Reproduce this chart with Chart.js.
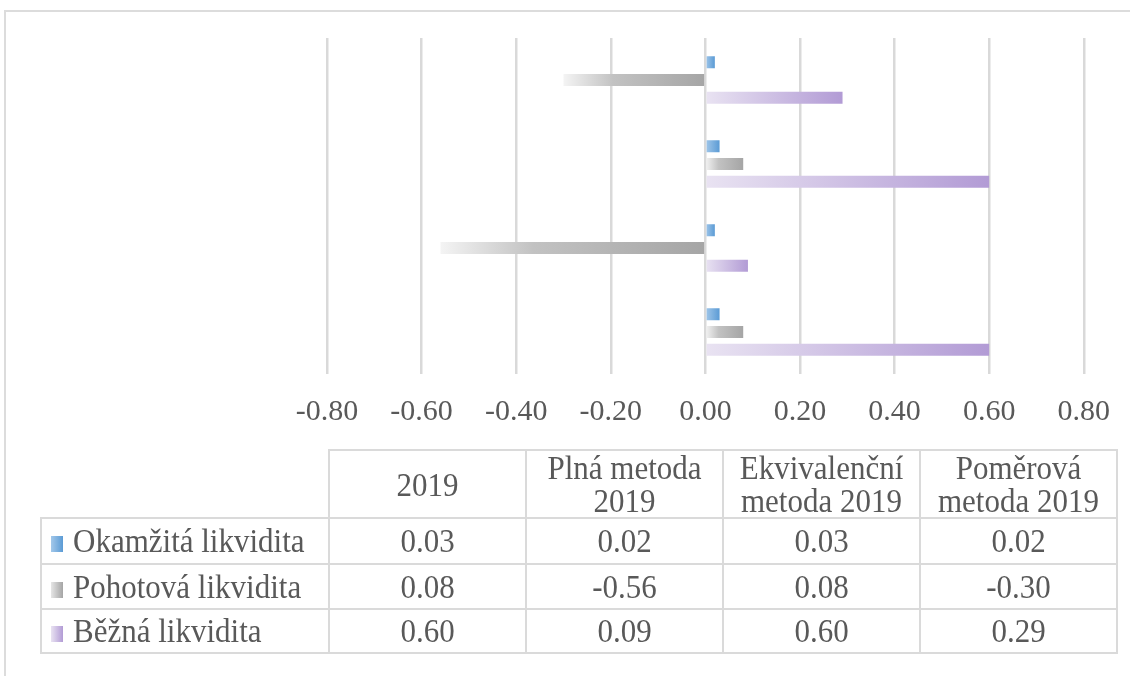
<!DOCTYPE html>
<html>
<head>
<meta charset="utf-8">
<script src="https://cdn.jsdelivr.net/npm/chart.js@4"></script>
<style>
    html, body { margin: 0; padding: 0; background: #fff; }
    body { width: 1130px; height: 676px; position: relative; overflow: hidden; font-family: 'Liberation Serif', 'Times New Roman', serif; }
    .frame { position: absolute; left: 4px; top: 10px; width: 1140px; height: 700px; border-top: 2px solid #dcdcdc; border-left: 2px solid #dcdcdc; }
    #chart { position: absolute; left: 0; top: 0; }
    table.data { position: absolute; left: 40px; top: 449px; border-collapse: collapse; table-layout: fixed; color: #595959; font-size: 31px; }
    table.data td { border: 2px solid #dadada; text-align: center; vertical-align: middle; padding: 0; white-space: nowrap; }
    table.data tr.head td { height: 66px; line-height: 33px; }
    table.data td.blank { border-top: none; border-left: none; }
    table.data td.name { text-align: left; padding-left: 9px; }
    .tall { display: inline-block; transform: scaleY(1.1); }
    .key { display: inline-block; width: 12px; height: 16px; margin-right: 10px; vertical-align: -1px; }
</style>
</head>
<body>
<div class="frame"></div>
<canvas id="chart" width="1130" height="450"></canvas>
<table class="data" id="dataTable"></table>
<script>
// Categories (table column order, 2019 is drawn at the bottom)
const categories = ['2019', 'Plná metoda 2019', 'Ekvivalenční metoda 2019', 'Poměrová metoda 2019'];
const headerLines = [['2019'], ['Plná metoda', '2019'], ['Ekvivalenční', 'metoda 2019'], ['Poměrová', 'metoda 2019']];

// Series values
const okamzita = [0.03, 0.02, 0.03, 0.02];
const pohotova = [0.08, -0.56, 0.08, -0.30];
const bezna = [0.60, 0.09, 0.60, 0.29];

// Axis ticks
const tickMin = -0.8;
const tickMax = 0.8;
const tickStep = 0.2;

const seriesNames = ['Okamžitá likvidita', 'Pohotová likvidita', 'Běžná likvidita'];

// gradient stops, light on the left, dark on the right
const gradients = [
    [[0, '#a3c8ea'], [1, '#5b9bd5']],
    [[0, '#f4f4f4'], [0.35, '#c2c2c2'], [1, '#a5a5a5']],
    [[0, '#e9e3f2'], [1, '#b29bd5']]
];

function barGradient(stops) {
    return function(context) {
        const chart = context.chart;
        if (!chart.chartArea || !chart.scales.x) return stops[stops.length - 1][1];
        const value = context.raw || 0;
        const x0 = chart.scales.x.getPixelForValue(0);
        const x1 = chart.scales.x.getPixelForValue(value);
        const left = Math.min(x0, x1);
        const right = Math.max(x0, x1);
        if (right - left < 1) return stops[stops.length - 1][1];
        const g = chart.ctx.createLinearGradient(left, 0, right, 0);
        stops.forEach(s => g.addColorStop(s[0], s[1]));
        return g;
    };
}

const seriesData = [okamzita, pohotova, bezna];

new Chart(document.getElementById('chart'), {
    type: 'bar',
    data: {
        labels: categories,
        datasets: seriesData.map((d, i) => ({
            label: seriesNames[i],
            data: d,
            backgroundColor: barGradient(gradients[i]),
            borderWidth: 0,
            categoryPercentage: 0.635,
            barPercentage: 0.68
        }))
    },
    options: {
        indexAxis: 'y',
        responsive: false,
        animation: false,
        layout: { padding: { left: 327, right: 40, top: 38, bottom: 0 } },
        plugins: {
            legend: { display: false },
            tooltip: { enabled: false },
            title: { display: false }
        },
        scales: {
            y: {
                display: false,
                reverse: true
            },
            x: {
                min: tickMin,
                max: tickMax,
                border: { display: false },
                grid: { color: '#d9d9d9', lineWidth: 2.5, drawTicks: false },
                ticks: {
                    stepSize: tickStep,
                    autoSkip: false,
                    maxRotation: 0,
                    padding: 20,
                    color: '#595959',
                    font: { family: "'Liberation Serif', 'Times New Roman', serif", size: 30 },
                    callback: function(value) {
                        return Number(value).toFixed(2);
                    }
                }
            }
        }
    }
});

// Data table below the chart
const table = document.getElementById('dataTable');
const colgroup = document.createElement('colgroup');
[288, 197, 197, 197, 197].forEach(w => {
    const col = document.createElement('col');
    col.style.width = w + 'px';
    colgroup.appendChild(col);
});
table.appendChild(colgroup);

function tallText(text) {
    const s = document.createElement('span');
    s.className = 'tall';
    s.textContent = text;
    return s;
}

const head = document.createElement('tr');
head.className = 'head';
const blank = document.createElement('td');
blank.className = 'blank';
head.appendChild(blank);
headerLines.forEach(lines => {
    const td = document.createElement('td');
    lines.forEach((line, k) => {
        if (k > 0) td.appendChild(document.createElement('br'));
        td.appendChild(tallText(line));
    });
    head.appendChild(td);
});
table.appendChild(head);

const rowHeights = [44, 43, 42];
const keyColors = ['linear-gradient(90deg, #a3c8ea, #5b9bd5)', 'linear-gradient(90deg, #e6e6e6, #a5a5a5)', 'linear-gradient(90deg, #e9e3f2, #b29bd5)'];
seriesData.forEach((d, i) => {
    const tr = document.createElement('tr');
    const name = document.createElement('td');
    name.className = 'name';
    name.style.height = rowHeights[i] + 'px';
    const key = document.createElement('span');
    key.className = 'key';
    key.style.background = keyColors[i];
    name.appendChild(key);
    name.appendChild(tallText(seriesNames[i]));
    tr.appendChild(name);
    d.forEach(v => {
        const td = document.createElement('td');
        td.appendChild(tallText(v.toFixed(2)));
        tr.appendChild(td);
    });
    table.appendChild(tr);
});
</script>
</body>
</html>
